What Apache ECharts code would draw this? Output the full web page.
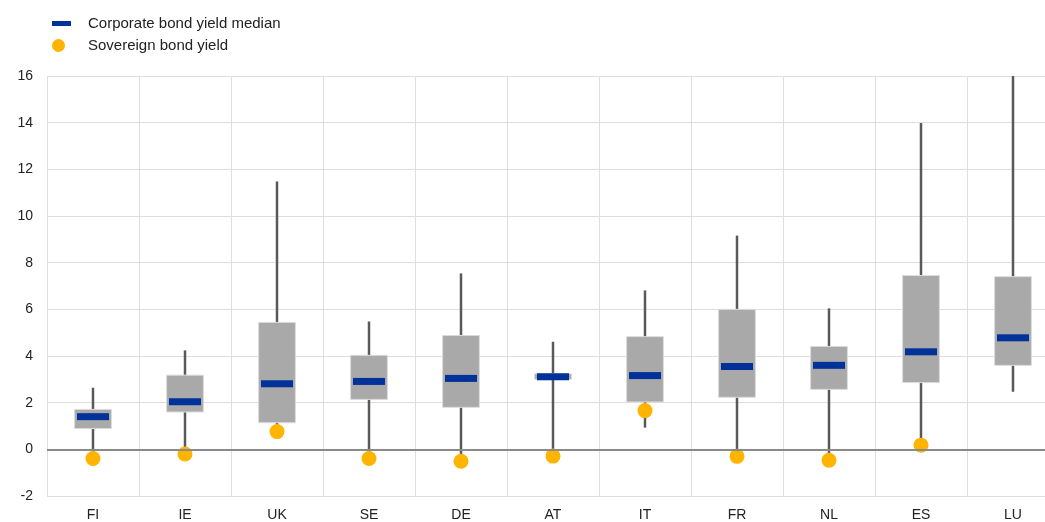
<!DOCTYPE html>
<html><head><meta charset="utf-8">
<script src="https://cdn.jsdelivr.net/npm/echarts@6/dist/echarts.min.js"></script>
<style>html,body{margin:0;padding:0;background:#fff;overflow:hidden;width:1045px;height:522px}#c{width:1059px;height:522px}</style>
</head><body><div id="c"></div>
<script>
const categories = ['FI','IE','UK','SE','DE','AT','IT','FR','NL','ES','LU'];
const whiskerLow  = [-0.3, -0.1, 0.9, -0.3, -0.4, -0.2, 0.93, -0.2, -0.4, 0.2, 2.47];
const boxLow      = [0.89, 1.60, 1.14, 2.14, 1.80, 3.00, 2.03, 2.23, 2.57, 2.86, 3.60];
const boxHigh     = [1.71, 3.18, 5.44, 4.03, 4.88, 3.24, 4.83, 6.00, 4.41, 7.45, 7.40];
const whiskerHigh = [2.64, 4.24, 11.48, 5.48, 7.54, 4.61, 6.81, 9.16, 6.04, 13.99, 16.0];
const median      = [1.40, 2.04, 2.81, 2.91, 3.04, 3.11, 3.16, 3.55, 3.60, 4.18, 4.78];
const sovereign   = [-0.39, -0.20, 0.76, -0.39, -0.51, -0.29, 1.66, -0.30, -0.47, 0.18, null];
const yTicks = {min: -2, max: 16, interval: 2};

const boxData = categories.map((c, i) => [i, whiskerLow[i], boxLow[i], median[i], boxHigh[i], whiskerHigh[i]]);
const font = 'Liberation Sans, Arial, sans-serif';

const chart = echarts.init(document.getElementById('c'), null, {renderer: 'canvas', width: 1059, height: 522});
chart.setOption({
  animation: false,
  textStyle: {fontFamily: font},
  grid: {left: 47, top: 76, bottom: 26, right: 0, containLabel: false},
  legend: [
    {data: [{name: 'Corporate bond yield median', icon: 'rect'}], left: 47, top: 11, itemWidth: 19, itemHeight: 5,
     textStyle: {fontSize: 15, color: '#222', fontFamily: font, padding: [0,0,0,12]}},
    {data: [{name: 'Sovereign bond yield', icon: 'circle'}], left: 47, top: 33, itemWidth: 13, itemHeight: 13,
     textStyle: {fontSize: 15, color: '#222', fontFamily: font, padding: [0,0,0,18]}}
  ],
  xAxis: {
    type: 'category', data: categories, boundaryGap: true,
    axisLine: {show: false}, axisTick: {show: false},
    axisLabel: {fontSize: 14, color: '#222', margin: 12, fontFamily: font},
    splitLine: {show: true, lineStyle: {color: '#dedede', width: 1}}
  },
  yAxis: {
    type: 'value', min: yTicks.min, max: yTicks.max, interval: yTicks.interval,
    axisLine: {show: false}, axisTick: {show: false},
    axisLabel: {fontSize: 14, color: '#222', margin: 14, fontFamily: font},
    splitLine: {show: true, lineStyle: {color: '#dedede', width: 1}}
  },
  series: [
    {
      type: 'custom', name: 'range', data: boxData, z: 2,
      encode: {x: 0, y: [1, 2, 3, 4, 5]},
      markLine: {silent: true, symbol: 'none', label: {show: false},
        lineStyle: {color: '#8a8a8a', width: 2, type: 'solid'}, data: [{yAxis: 0}]},
      renderItem: function (params, api) {
        const x = api.value(0);
        const pLow = api.coord([x, api.value(1)]);
        const pQ1 = api.coord([x, api.value(2)]);
        const pQ3 = api.coord([x, api.value(4)]);
        const pHigh = api.coord([x, api.value(5)]);
        const w = api.size([1, 0])[0] * 0.4;
        return {type: 'group', children: [
          {type: 'line', shape: {x1: pLow[0], y1: pLow[1], x2: pHigh[0], y2: pHigh[1]},
           style: {stroke: '#595959', lineWidth: 2.5}},
          {type: 'rect', shape: {x: pQ3[0] - w / 2, y: pQ3[1], width: w, height: pQ1[1] - pQ3[1]},
           style: {fill: '#a9a9a9', stroke: '#dcdcdc', lineWidth: 1}}
        ]};
      }
    },
    {
      type: 'scatter', name: 'Corporate bond yield median', data: median, z: 3,
      symbol: 'rect', symbolSize: [32, 7], itemStyle: {color: '#003299', opacity: 1}
    },
    {
      type: 'scatter', name: 'Sovereign bond yield', data: sovereign, z: 4,
      symbol: 'circle', symbolSize: 15, itemStyle: {color: '#ffb400', opacity: 1}
    }
  ]
});
</script></body></html>
